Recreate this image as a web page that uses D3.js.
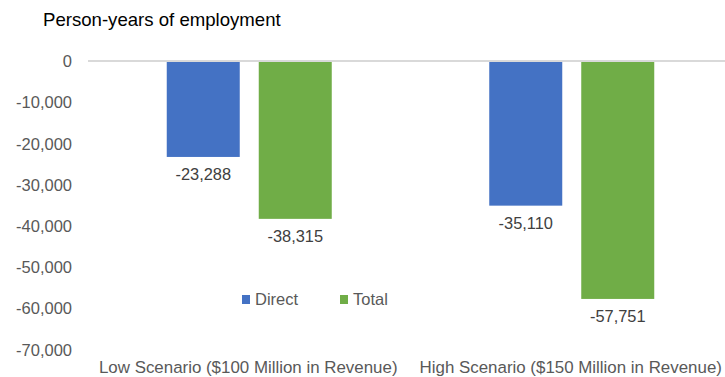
<!DOCTYPE html>
<html>
<head>
<meta charset="utf-8">
<script src="https://cdn.jsdelivr.net/npm/d3@7"></script>
<style>
  body { margin: 0; background: #fff; }
  text { font-family: "Liberation Sans", Arial, sans-serif; }
</style>
</head>
<body>
<script>
// data
const categories = ["Low Scenario ($100 Million in Revenue)", "High Scenario ($150 Million in Revenue)"];
const seriesNames = ["Direct", "Total"];
const direct = [-23288, -35110];
const total = [-38315, -57751];
const yTicks = [0, -10000, -20000, -30000, -40000, -50000, -60000, -70000];
const colors = ["#4472c4", "#70ad47"];

const width = 725, height = 377;
const svg = d3.select("body").append("svg").attr("width", width).attr("height", height);

const y = d3.scaleLinear().domain([0, -70000]).range([61, 349.4]);
const x = d3.scaleBand().domain(categories).range([88, 733]);
const inner = d3.scaleBand().domain(seriesNames).range([0, x.bandwidth()]).paddingInner(0.2065).paddingOuter(0.856);

const fmt = v => d3.format(",")(v).replace("−", "-");

// title
svg.append("text").attr("x", 43).attr("y", 26).attr("font-size", 18.6).attr("fill", "#000")
  .text("Person-years of employment");

// y axis labels
const yAxis = d3.axisLeft(y).tickValues(yTicks).tickSize(0).tickPadding(0).tickFormat(fmt);
const ya = svg.append("g").attr("transform", "translate(72,0)").call(yAxis);
ya.select(".domain").remove();
ya.selectAll("text").attr("font-size", 16.5).attr("fill", "#595959")
  .attr("font-family", "Liberation Sans, Arial, sans-serif").attr("dy", "0.35em");

// zero line
svg.append("line").attr("x1", 88).attr("x2", width).attr("y1", y(0)).attr("y2", y(0))
  .attr("stroke", "#d9d9d9").attr("stroke-width", 2);

// bars
const rows = categories.map((c, i) => ({ cat: c, vals: [direct[i], total[i]] }));
const grp = svg.selectAll(".grp").data(rows).enter().append("g")
  .attr("transform", d => `translate(${x(d.cat)},0)`);

grp.selectAll("rect").data(d => d.vals.map((v, j) => ({ name: seriesNames[j], v, j })))
  .enter().append("rect")
  .attr("x", d => inner(d.name))
  .attr("width", inner.bandwidth())
  .attr("y", y(0) + 1)
  .attr("height", d => y(d.v) - y(0) - 1)
  .attr("fill", d => colors[d.j]);

grp.selectAll(".lbl").data(d => d.vals.map((v, j) => ({ name: seriesNames[j], v, j })))
  .enter().append("text")
  .attr("x", d => inner(d.name) + inner.bandwidth() / 2)
  .attr("y", d => y(d.v) + 23)
  .attr("text-anchor", "middle").attr("font-size", 16.4).attr("fill", "#404040")
  .text(d => fmt(d.v));

// category labels
svg.selectAll(".cat").data(categories).enter().append("text")
  .attr("x", d => x(d) + x.bandwidth() / 2 - 1)
  .attr("y", 373)
  .attr("text-anchor", "middle").attr("font-size", 16.9).attr("fill", "#595959")
  .text(d => d);

// legend
const legX = [242, 340];
const leg = svg.selectAll(".leg").data(seriesNames).enter().append("g")
  .attr("transform", (d, i) => `translate(${legX[i]},295)`);
leg.append("rect").attr("width", 8).attr("height", 9).attr("fill", (d, i) => colors[i]);
leg.append("text").attr("x", 13).attr("y", 9.5).attr("font-size", 16.5).attr("fill", "#595959").text(d => d);
</script>
</body>
</html>
